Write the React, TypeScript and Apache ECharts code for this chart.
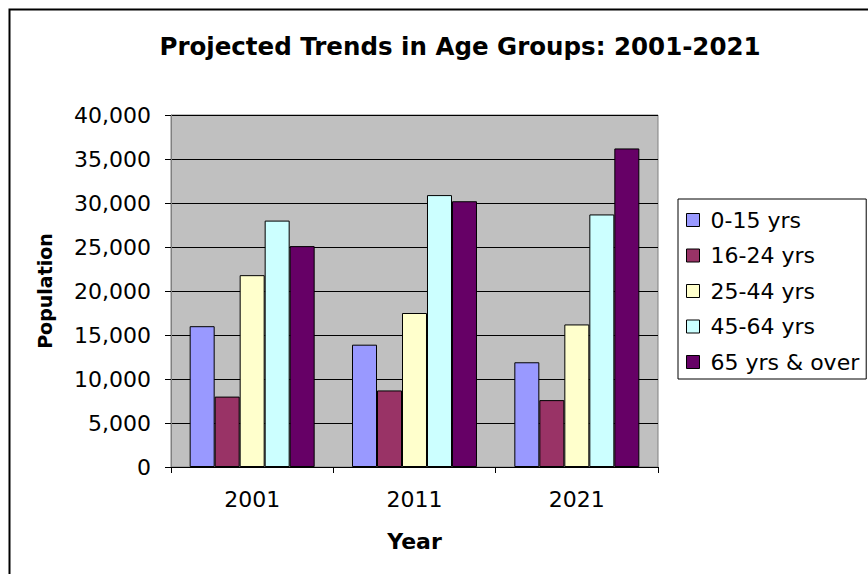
import React, { useEffect, useRef } from "react";
import * as echarts from "echarts";

const years = ["2001", "2011", "2021"];
const seriesNames = ["0-15 yrs", "16-24 yrs", "25-44 yrs", "45-64 yrs", "65 yrs & over"];
const age0to15 = [16000, 13900, 11900];
const age16to24 = [8000, 8700, 7600];
const age25to44 = [21800, 17500, 16200];
const age45to64 = [28000, 30900, 28700];
const age65plus = [25100, 30200, 36200];
const colors = ["#9999FF", "#993366", "#FFFFCC", "#CCFFFF", "#660066"];
const yTicks = { min: 0, max: 40000, interval: 5000 };

export default function App() {
  const ref = useRef<HTMLDivElement>(null);
  useEffect(() => {
    if (!ref.current) return;
    const chart = echarts.init(ref.current, null, { renderer: "svg" });
    const values = [age0to15, age16to24, age25to44, age45to64, age65plus];
    const font = "'DejaVu Sans', Verdana, sans-serif";
    chart.setOption({
      animation: false,
      backgroundColor: "#ffffff",
      textStyle: { fontFamily: font },
      title: {
        text: "Projected Trends in Age Groups: 2001-2021",
        left: 455,
        top: 29,
        textAlign: "center",
        textStyle: { fontSize: 24.5, fontWeight: "bold", color: "#000", fontFamily: font },
      },
      graphic: [
        {
          type: "rect",
          left: 7,
          top: 7,
          shape: { width: 900, height: 620 },
          style: { fill: "none", stroke: "#000", lineWidth: 2 },
          silent: true,
        },
      ],
      legend: {
        orient: "vertical",
        left: 678,
        top: 199,
        padding: [9, 7, 5, 8],
        itemGap: 11.5,
        itemWidth: 13,
        itemHeight: 13,
        icon: "rect",
        borderColor: "#000",
        borderWidth: 1,
        backgroundColor: "#fff",
        itemStyle: { borderColor: "#000", borderWidth: 1 },
        textStyle: {
          fontSize: 22,
          color: "#000",
          lineHeight: 24,
          fontFamily: font,
          padding: [0, 0, 0, 6],
        },
        data: seriesNames,
      },
      grid: {
        left: 171,
        right: 210,
        top: 115,
        bottom: 107,
        show: true,
        backgroundColor: "#C0C0C0",
        borderColor: "#808080",
        borderWidth: 1,
        containLabel: false,
      },
      xAxis: {
        type: "category",
        data: years,
        name: "Year",
        nameLocation: "middle",
        nameGap: 63,
        nameTextStyle: { fontSize: 22, fontWeight: "bold", color: "#000", fontFamily: font },
        axisLine: { lineStyle: { color: "#000", width: 1 } },
        axisTick: { show: true, alignWithLabel: false, length: 6, lineStyle: { color: "#000" } },
        axisLabel: { fontSize: 22, color: "#000", margin: 21, fontFamily: font },
      },
      yAxis: {
        type: "value",
        min: yTicks.min,
        max: yTicks.max,
        interval: yTicks.interval,
        name: "Population",
        nameLocation: "middle",
        nameRotate: 90,
        nameGap: 117,
        nameTextStyle: { fontSize: 19, fontWeight: "bold", color: "#000", fontFamily: font },
        axisLine: { show: true, lineStyle: { color: "#808080", width: 1 } },
        axisTick: { show: true, length: 6, lineStyle: { color: "#000" } },
        axisLabel: {
          fontSize: 22,
          color: "#000",
          margin: 20,
          fontFamily: font,
          formatter: (v: number) => v.toLocaleString("en-US"),
        },
        splitLine: { show: true, lineStyle: { color: "#000", width: 1 } },
      },
      series: seriesNames.map((name, i) => ({
        name,
        type: "bar",
        data: values[i],
        barGap: "0%",
        barCategoryGap: "23%",
        itemStyle: { color: colors[i], borderColor: "#000", borderWidth: 1 },
      })),
    });
    return () => chart.dispose();
  }, []);
  return (
    <div
      ref={ref}
      style={{ position: "fixed", left: 0, top: 0, width: 868, height: 574 }}
    />
  );
}
